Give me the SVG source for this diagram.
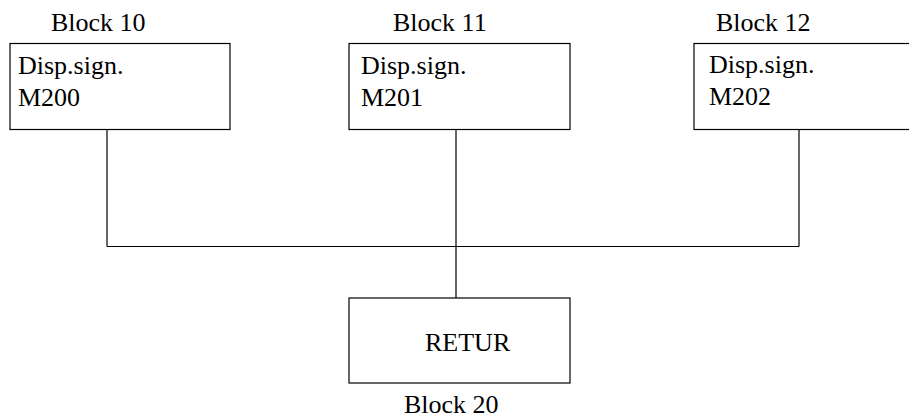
<svg xmlns="http://www.w3.org/2000/svg" width="909" height="418" viewBox="0 0 909 418">
  <style>
    .box { fill: #ffffff; stroke: #000000; stroke-width: 1.2; }
    .wire { fill: none; stroke: #000000; stroke-width: 1.2; }
    .lbl { font-family: 'Liberation Serif', 'Times New Roman', Times, serif; font-size: 26px; fill: #000000; }
  </style>
  <rect width="909" height="418" fill="#ffffff"/>

  <!-- connectors: drops from each block into the common bus, bus down to RETUR -->
  <g id="connectors">
    <path class="wire" d="M107 129.5 V246.5"/>
    <path class="wire" d="M456 129.5 V298"/>
    <path class="wire" d="M799 129.5 V246.5"/>
    <path class="wire" d="M107 246.5 H799"/>
  </g>

  <g id="block10" class="lbl" font-family="Liberation Serif, serif">
    <text x="51" y="31">Block 10</text>
    <rect class="box" x="10" y="43.5" width="220" height="86"/>
    <text x="18" y="74">Disp.sign.</text>
    <text x="18" y="106">M200</text>
  </g>

  <g id="block11" class="lbl" font-family="Liberation Serif, serif">
    <text x="393" y="31">Block 11</text>
    <rect class="box" x="349" y="43.5" width="221" height="86"/>
    <text x="361" y="74">Disp.sign.</text>
    <text x="361" y="106">M201</text>
  </g>

  <g id="block12" class="lbl" font-family="Liberation Serif, serif">
    <text x="716" y="31">Block 12</text>
    <rect class="box" x="694" y="43.5" width="221" height="86"/>
    <text x="709" y="73">Disp.sign.</text>
    <text x="709" y="105">M202</text>
  </g>

  <g id="block20" class="lbl" font-family="Liberation Serif, serif">
    <rect class="box" x="349" y="298" width="221" height="85"/>
    <text x="425" y="351">RETUR</text>
    <text x="404" y="413">Block 20</text>
  </g>
</svg>
